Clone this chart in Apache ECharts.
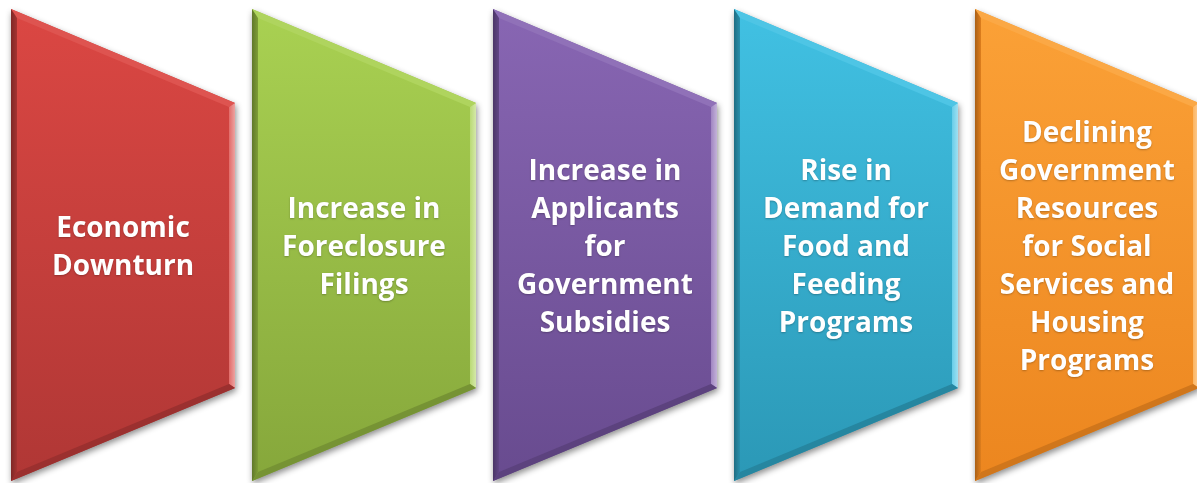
<!DOCTYPE html>
<html>
<head>
<meta charset="utf-8">
<title>Process</title>
<style>
  *{margin:0;padding:0;}
  html,body{width:100%;height:100%;background:#fff;}
  #main{width:1197px;height:483px;}
</style>
</head>
<body>
<div id="main"></div>
<script src="https://cdn.jsdelivr.net/npm/echarts@6/dist/echarts.min.js"></script>
<script>
// stages of the process, left to right
var stages = [
    'Economic\nDownturn',
    'Increase in\nForeclosure\nFilings',
    'Increase in\nApplicants\nfor\nGovernment\nSubsidies',
    'Rise in\nDemand for\nFood and\nFeeding\nPrograms',
    'Declining\nGovernment\nResources\nfor Social\nServices and\nHousing\nPrograms'
];
var stageIndex = [0, 1, 2, 3, 4];

// palette (top / bottom of each shape)
var topColors = ['#DB4743', '#A9D152', '#8866B3', '#41C1E3', '#FBA137'];
var bottomColors = ['#B03735', '#86A73B', '#684B8F', '#2B98B6', '#EC861F'];

// layout, in px-like axis units
var SLOT = 241, LEFT = 11, W = 224;
var TOP = 9, BOTTOM = 481, RTOP = 103, RBOTTOM = 388;
var BEVEL = 6;

function hexRgb(h) {
    h = h.replace('#', '');
    return [parseInt(h.substr(0, 2), 16), parseInt(h.substr(2, 2), 16), parseInt(h.substr(4, 2), 16)];
}
function mix(c, to, t) {
    var a = hexRgb(c), b = hexRgb(to);
    var r = a.map(function (v, k) { return Math.round(v + (b[k] - v) * t); });
    return 'rgb(' + r.join(',') + ')';
}

// inner polygon of a convex shape (clockwise on screen)
function inset(pts, d) {
    var n = pts.length, lines = [], out = [];
    for (var k = 0; k < n; k++) {
        var p = pts[k], q = pts[(k + 1) % n];
        var dx = q[0] - p[0], dy = q[1] - p[1];
        var len = Math.sqrt(dx * dx + dy * dy);
        lines.push([p[0] - dy / len * d, p[1] + dx / len * d, dx, dy]);
    }
    for (var k = 0; k < n; k++) {
        var l1 = lines[(k - 1 + n) % n], l2 = lines[k];
        var cr = l1[2] * l2[3] - l1[3] * l2[2];
        var t = ((l2[0] - l1[0]) * l2[3] - (l2[1] - l1[1]) * l2[2]) / cr;
        out.push([l1[0] + l1[2] * t, l1[1] + l1[3] * t]);
    }
    return out;
}

function renderItem(params, api) {
    var i = api.value(0);
    var w = W / SLOT;
    var pts = [
        api.coord([i, TOP]),
        api.coord([i + w, RTOP]),
        api.coord([i + w, RBOTTOM]),
        api.coord([i, BOTTOM])
    ];
    var inner = inset(pts, BEVEL);
    var cTop = topColors[i], cBot = bottomColors[i];
    var faceColors = [
        mix(cTop, '#FFFFFF', 0.07),
        new echarts.graphic.LinearGradient(0, 0, 1, 0, [
            {offset: 0, color: mix(cTop, '#FFFFFF', 0.2)},
            {offset: 1, color: mix(cTop, '#FFFFFF', 0.5)}
        ]),
        mix(cBot, '#000000', 0.12),
        new echarts.graphic.LinearGradient(0, 0, 1, 0, [
            {offset: 0, color: mix(cBot, '#000000', 0.28)},
            {offset: 1, color: mix(cBot, '#000000', 0.06)}
        ])
    ];
    var children = [{
        type: 'polygon',
        shape: {points: pts},
        style: {
            fill: new echarts.graphic.LinearGradient(0, 0, 0, 1, [
                {offset: 0, color: cTop},
                {offset: 1, color: cBot}
            ]),
            shadowBlur: 6,
            shadowOffsetX: 1,
            shadowOffsetY: 3,
            shadowColor: 'rgba(0,0,0,0.45)'
        }
    }];
    for (var k = 0; k < 4; k++) {
        var k2 = (k + 1) % 4;
        children.push({
            type: 'polygon',
            shape: {points: [pts[k], pts[k2], inner[k2], inner[k]]},
            style: {fill: faceColors[k]}
        });
    }
    var cx = api.coord([i + w / 2, 0])[0];
    var cy = api.coord([0, (TOP + BOTTOM) / 2])[1];
    children.push({
        type: 'text',
        x: cx,
        y: cy + 3,
        style: {
            text: stages[i],
            fill: '#FFFFFF',
            fontFamily: '"Open Sans"',
            fontWeight: 'bold',
            fontSize: 28,
            lineHeight: 38,
            align: 'center',
            verticalAlign: 'middle',
            textShadowColor: 'rgba(0,0,0,0.25)',
            textShadowBlur: 2,
            textShadowOffsetY: 1
        }
    });
    return {type: 'group', children: children};
}

var myChart = echarts.init(document.getElementById('main'));
var option = {
    animation: false,
    grid: {left: 0, right: 0, top: 0, bottom: 0},
    xAxis: {type: 'value', min: -LEFT / SLOT, max: (1197 - LEFT) / SLOT, show: false},
    yAxis: {type: 'value', min: 0, max: 483, inverse: true, show: false},
    series: [{
        type: 'custom',
        renderItem: renderItem,
        clip: true,
        encode: {x: 0},
        data: stageIndex.map(function (i) { return [i]; })
    }]
};
myChart.setOption(option);
</script>
</body>
</html>
